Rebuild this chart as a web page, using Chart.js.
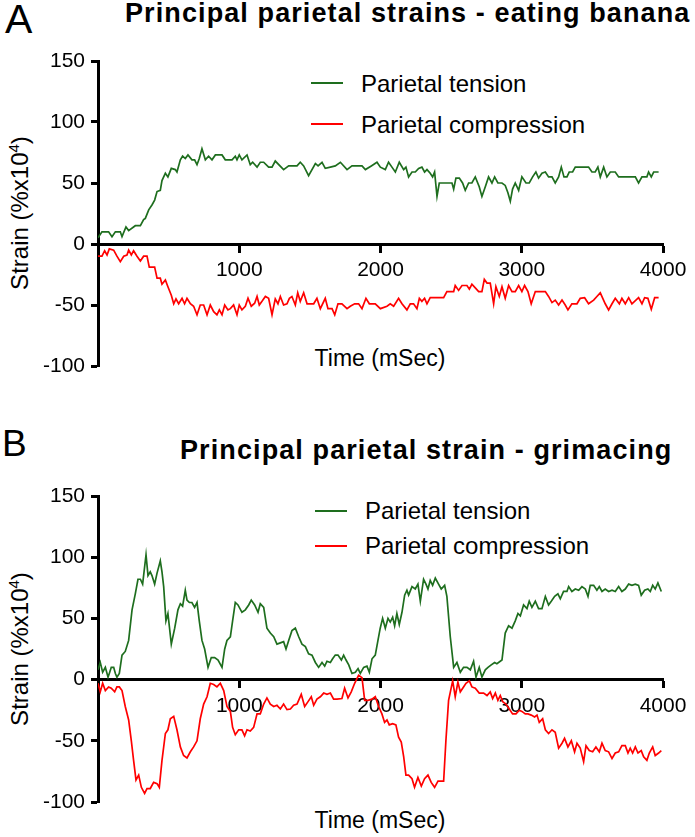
<!DOCTYPE html>
<html>
<head>
<meta charset="utf-8">
<script src="https://cdn.jsdelivr.net/npm/chart.js@4.4.0/dist/chart.umd.min.js"></script>
<style>
  body { margin: 0; width: 695px; height: 837px; position: relative; overflow: hidden; background: #fff;
         font-family: "Liberation Sans", Arial, sans-serif; color: #000; }
  .txt { position: absolute; white-space: nowrap; }
  .panel { position: absolute; left: 0; font-size: 41px; line-height: 41px; }
  .title { font-size: 27px; line-height: 27px; font-weight: bold; letter-spacing: 1.1px; }
  .leg { font-size: 24px; line-height: 24px; }
  .legline { position: absolute; width: 32px; height: 1.7px; }
  .xtitle { font-size: 23px; line-height: 23px; width: 200px; text-align: center; }
  .ytitle { font-size: 24px; line-height: 24px; width: 200px; text-align: center; transform: rotate(-90deg); }
  .ytitle sup { font-size: 15px; line-height: 0; vertical-align: 9px; }
  canvas { position: absolute; left: 0; }
</style>
</head>
<body>

<!-- panel A -->
<div class="txt panel" style="left:5px; top:-1px;">A</div>
<div class="txt title" style="left:125px; top:0px;">Principal parietal strains - eating banana</div>
<div class="legline" style="left:311px; top:82px; background:#1e6e1e;"></div>
<div class="txt leg" style="left:361px; top:72px;">Parietal tension</div>
<div class="legline" style="left:311px; top:123px; background:#ff0000;"></div>
<div class="txt leg" style="left:361px; top:113px;">Parietal compression</div>
<div class="txt xtitle" style="left:280px; top:347px;">Time (mSec)</div>
<div class="txt ytitle" style="left:-80px; top:201px;">Strain (%x10<sup>4</sup>)</div>
<canvas id="chartA" width="695" height="410" style="top:0px;"></canvas>

<!-- panel B -->
<div class="txt panel" style="left:2px; top:425px; font-size:37px; line-height:37px;">B</div>
<div class="txt title" style="left:180px; top:437px;">Principal parietal strain - grimacing</div>
<div class="legline" style="left:315px; top:510px; background:#1e6e1e;"></div>
<div class="txt leg" style="left:365px; top:499px;">Parietal tension</div>
<div class="legline" style="left:315px; top:545px; background:#ff0000;"></div>
<div class="txt leg" style="left:365px; top:534px;">Parietal compression</div>
<div class="txt xtitle" style="left:280px; top:809px;">Time (mSec)</div>
<div class="txt ytitle" style="left:-80px; top:637px;">Strain (%x10<sup>4</sup>)</div>
<canvas id="chartB" width="695" height="417" style="top:420px;"></canvas>

<script>
// x ticks (mSec) and y ticks (strain)
const timeTicks = [0, 1000, 2000, 3000, 4000];
const strainTicks = [-100, -50, 0, 50, 100, 150];

// A - eating banana, tension
const bananaTensionMs = [
  0, 28, 75, 99, 123, 158, 170, 198, 217, 264,
  300, 323, 335, 359, 382, 401, 418, 441, 453, 477,
  495, 519, 547, 559, 583, 599, 618, 637, 665, 684,
  701, 717, 736, 760, 783, 807, 831, 878, 901, 949,
  972, 984, 1000, 1019, 1055, 1078, 1095, 1126, 1149, 1173,
  1208, 1232, 1255, 1314, 1350, 1409, 1432, 1456, 1491, 1539,
  1558, 1586, 1609, 1645, 1680, 1716, 1763, 1798, 1869, 1893,
  1935, 1975, 1999, 2034, 2057, 2081, 2105, 2133, 2164, 2180,
  2199, 2223, 2246, 2270, 2293, 2312, 2329, 2352, 2369, 2383,
  2400, 2416, 2506, 2518, 2534, 2558, 2581, 2600, 2624, 2647,
  2671, 2699, 2718, 2742, 2765, 2789, 2808, 2831, 2860, 2883,
  2902, 2919, 2935, 2954, 2978, 3001, 3030, 3053, 3077, 3100,
  3119, 3143, 3167, 3190, 3214, 3237, 3261, 3280, 3299, 3320,
  3336, 3360, 3379, 3473, 3497, 3520, 3539, 3556, 3580, 3603,
  3627, 3662, 3686, 3804, 3827, 3851, 3886, 3898, 3917, 3934,
  3969
];
const bananaTension = [
  5, 10, 10, 6, 10, 10, 6, 14, 11, 15,
  15, 20, 21, 28, 32, 36, 43, 44, 52, 58,
  55, 62, 61, 59, 69, 72, 70, 73, 69, 69,
  65, 70, 78, 69, 72, 69, 73, 73, 69, 69,
  72, 69, 73, 69, 73, 65, 67, 63, 67, 67,
  63, 63, 68, 61, 64, 64, 67, 64, 56, 66,
  64, 67, 62, 63, 64, 67, 61, 64, 64, 61,
  64, 67, 63, 61, 67, 63, 59, 67, 61, 63,
  55, 59, 59, 62, 63, 59, 61, 58, 55, 59,
  39, 50, 50, 45, 54, 54, 50, 44, 50, 50,
  55, 47, 39, 47, 55, 50, 55, 50, 50, 48,
  42, 35, 45, 50, 44, 55, 50, 50, 55, 59,
  54, 58, 59, 55, 55, 50, 55, 63, 55, 55,
  59, 59, 63, 63, 59, 59, 63, 55, 63, 55,
  59, 59, 55, 55, 50, 55, 55, 59, 55, 59,
  59
];

// A - eating banana, compression
const bananaCompressionMs = [
  0, 28, 47, 64, 80, 111, 134, 158, 182, 205,
  217, 236, 252, 276, 300, 323, 347, 363, 401, 418,
  441, 453, 477, 495, 519, 536, 552, 571, 595, 613,
  630, 654, 677, 701, 724, 748, 772, 795, 819, 842,
  859, 878, 897, 920, 937, 960, 984, 1000, 1019, 1043,
  1062, 1085, 1109, 1126, 1142, 1161, 1185, 1208, 1232, 1255,
  1274, 1291, 1314, 1338, 1355, 1373, 1397, 1414, 1432, 1456,
  1480, 1527, 1550, 1574, 1609, 1628, 1657, 1676, 1699, 1727,
  1763, 1786, 1817, 1845, 1869, 1897, 1921, 1963, 1999, 2046,
  2069, 2093, 2128, 2152, 2187, 2211, 2234, 2258, 2275, 2293,
  2312, 2329, 2352, 2447, 2470, 2518, 2529, 2553, 2577, 2612,
  2629, 2647, 2671, 2695, 2718, 2735, 2754, 2777, 2801, 2817,
  2841, 2860, 2883, 2907, 2931, 2954, 2978, 3001, 3020, 3044,
  3067, 3096, 3167, 3190, 3214, 3237, 3261, 3285, 3308, 3327,
  3355, 3391, 3414, 3445, 3473, 3509, 3532, 3556, 3591, 3615,
  3639, 3662, 3691, 3709, 3733, 3757, 3780, 3827, 3851, 3870,
  3893, 3917, 3941, 3969
];
const bananaCompression = [
  -10, -10, -5.5, -9, -4, -5, -10, -14.5, -10, -9,
  -5, -9, -5.5, -10, -14, -10, -10, -19, -19, -28,
  -28, -33, -29.5, -35, -42, -49, -45, -49, -44.5, -49,
  -44.5, -49, -51, -58, -50, -50, -58, -50, -55.5, -58,
  -54, -58, -50, -54, -53, -50, -58, -50, -54, -51,
  -44.5, -51, -48.5, -43, -50, -47, -43, -44.5, -58, -45,
  -49, -43, -50, -49, -44.5, -43, -50, -40, -47, -40,
  -49, -49, -44.5, -53, -44.5, -53, -53, -58, -49, -49,
  -53, -51, -49, -49, -53, -44.5, -49, -49, -53, -51,
  -49, -51, -44.5, -49, -54, -49, -49, -53, -44.5, -47,
  -44.5, -49, -44, -44, -39, -39, -34, -38, -34, -34,
  -37, -33, -36, -39, -39, -29, -32, -32, -49, -35,
  -43, -35, -44.5, -34, -39, -39, -34, -39, -34, -39,
  -49, -39, -39, -43, -48, -46, -50, -46, -50, -54,
  -49, -49, -44.5, -44, -49, -46, -43, -40, -49, -54,
  -49, -44.5, -49, -44.5, -49, -44, -49, -44, -49, -44,
  -44.5, -53.5, -44, -44
];

// B - grimacing, tension
const grimaceTensionMs = [
  0, 16, 33, 52, 71, 80, 94, 111, 123, 134,
  151, 170, 193, 217, 241, 264, 283, 300, 316, 340,
  354, 370, 382, 401, 418, 441, 453, 465, 481, 495,
  519, 543, 566, 583, 599, 618, 630, 647, 665, 684,
  701, 717, 736, 755, 779, 802, 826, 850, 878, 897,
  913, 937, 953, 972, 991, 1019, 1043, 1067, 1085, 1109,
  1133, 1149, 1173, 1196, 1220, 1244, 1267, 1291, 1314, 1331,
  1350, 1373, 1397, 1421, 1444, 1468, 1491, 1515, 1539, 1562,
  1586, 1605, 1621, 1645, 1661, 1680, 1699, 1723, 1739, 1756,
  1775, 1798, 1822, 1841, 1857, 1881, 1904, 1921, 1940, 1963,
  1982, 1998, 2015, 2034, 2053, 2069, 2086, 2100, 2116, 2133,
  2152, 2171, 2187, 2199, 2223, 2246, 2265, 2282, 2305, 2322,
  2336, 2352, 2369, 2388, 2411, 2430, 2454, 2470, 2494, 2518,
  2541, 2565, 2588, 2612, 2636, 2659, 2676, 2699, 2718, 2742,
  2761, 2784, 2808, 2824, 2860, 2883, 2907, 2931, 2954, 2973,
  2990, 3013, 3037, 3053, 3072, 3096, 3119, 3143, 3167, 3190,
  3209, 3233, 3256, 3273, 3296, 3320, 3332, 3355, 3379, 3403,
  3426, 3450, 3469, 3485, 3509, 3532, 3549, 3568, 3591, 3615,
  3639, 3662, 3686, 3709, 3733, 3757, 3780, 3804, 3827, 3846,
  3870, 3893, 3910, 3927, 3945, 3964, 3988
];
const grimaceTension = [
  8, 14, 6, 10, 2, 5, 10, 10, 5, 2,
  5, 20, 23, 32, 57, 70, 82, 82, 78, 102,
  85, 88, 85, 78, 87, 97, 88, 76, 48, 54,
  29, 42, 57, 62, 60, 73, 65, 63, 63, 59,
  63, 48, 32, 25, 10, 18, 18, 16, 10, 25,
  32, 35, 48, 63, 61, 55, 57, 61, 65, 61,
  55, 62, 59, 42, 38, 35, 29, 30, 31, 25,
  32, 40, 42, 35, 29, 27, 21, 20, 14, 10,
  14, 11, 15, 14, 17, 20, 20, 16, 20, 16,
  12, 5, 6, 9, 5, 10, 11, 6, 17, 20,
  32, 42, 50, 42, 50, 47, 51, 44, 54, 45,
  55, 69, 73, 69, 76, 74, 78, 64, 82, 78,
  74, 81, 77, 83, 78, 74, 77, 68, 35, 10,
  14, 6, 10, 10, 8, 15, 2, 10, 2, 8,
  10, 12, 14, 13, 16, 38, 44, 42, 48, 54,
  52, 61, 58, 64, 59, 64, 58, 58, 68, 61,
  64, 68, 70, 66, 72, 72, 76, 72, 74, 73,
  76, 74, 68, 77, 77, 73, 76, 72, 74, 72,
  73, 72, 76, 72, 74, 78, 77, 78, 77, 69,
  73, 74, 72, 77, 74, 79, 72
];

// B - grimacing, compression
const grimaceCompressionMs = [
  0, 16, 33, 52, 75, 94, 118, 134, 151, 170,
  193, 217, 236, 252, 269, 288, 307, 330, 347, 370,
  394, 418, 434, 453, 477, 495, 512, 536, 559, 583,
  606, 630, 654, 677, 701, 724, 748, 772, 795, 819,
  842, 866, 890, 913, 937, 953, 972, 996, 1019, 1038,
  1055, 1078, 1102, 1126, 1149, 1173, 1196, 1220, 1244, 1267,
  1291, 1314, 1338, 1362, 1385, 1409, 1439, 1463, 1487, 1510,
  1527, 1550, 1574, 1598, 1621, 1645, 1668, 1692, 1727, 1746,
  1770, 1793, 1817, 1845, 1869, 1888, 1911, 1940, 1963, 1987,
  2010, 2029, 2046, 2062, 2086, 2109, 2128, 2147, 2164, 2180,
  2199, 2223, 2241, 2265, 2289, 2312, 2336, 2359, 2383, 2407,
  2430, 2447, 2463, 2482, 2511, 2529, 2548, 2565, 2588, 2605,
  2629, 2647, 2671, 2699, 2730, 2754, 2777, 2794, 2813, 2831,
  2848, 2865, 2888, 2912, 2935, 2959, 2983, 3001, 3025, 3044,
  3067, 3091, 3108, 3124, 3148, 3167, 3190, 3214, 3237, 3261,
  3285, 3303, 3327, 3351, 3374, 3391, 3414, 3438, 3455, 3478,
  3502, 3525, 3549, 3568, 3591, 3615, 3639, 3662, 3686, 3709,
  3733, 3752, 3768, 3785, 3804, 3823, 3846, 3863, 3886, 3903,
  3927, 3945, 3969, 3988
];
const grimaceCompression = [
  -3, -10, -3, -9, -6, -7, -10, -6, -6, -9,
  -22, -33, -50, -66, -82, -78, -88, -93, -89, -89,
  -84, -85, -88, -66, -44, -41, -32, -30, -41, -55,
  -62, -64, -59, -55, -50, -32, -20, -14, -3, -4,
  -6, -3, -9, -22, -26, -39, -45, -41, -41, -46,
  -41, -42, -39, -28, -28, -20, -15, -20, -22, -21,
  -24, -20, -24.5, -24, -21, -20, -12, -22, -18, -14,
  -21, -16, -14, -11, -12, -11, -16, -16, -15.5, -7,
  -15, -10, -3, 3.5, 1.6, -17, -17, -16, -14, -22,
  -28, -35, -33, -37, -36, -37, -47, -51, -63, -78,
  -78, -81, -88, -80, -87, -81, -78, -84, -88, -83,
  -83, -83, -50, -17, -1, -14, -2, -10, -6, -3,
  -1, -6, -7, -11, -11, -13, -10, -15.5, -11, -17,
  -13, -18, -20, -24, -28, -28, -25, -26, -28, -28,
  -29, -30.5, -29, -35, -32, -41, -44, -41, -43, -56,
  -52, -48, -55, -50, -59, -52, -56, -67, -54, -58,
  -59, -55, -59, -52, -58, -59, -64.5, -60, -59, -54,
  -54, -60, -56, -60, -55, -60, -58, -63, -66, -60,
  -55, -62, -60, -58
];

const GREEN = '#1e6e1e';
const RED = '#ff0000';
const FONT = "'Liberation Sans', Arial, sans-serif";

Chart.defaults.font.family = FONT;
Chart.defaults.color = '#000';

function toPoints(ms, vals) {
  return ms.map((t, i) => ({ x: t, y: vals[i] }));
}

function axisStyle() {
  return {
    grid: { drawOnChartArea: false, drawTicks: true, tickLength: 7, tickWidth: 3, tickColor: '#000' },
    border: { display: true, color: '#000', width: 3 }
  };
}

function drawPanel(id, tMs, tVal, cMs, cVal, padTop, padBottom) {
  const ctx = document.getElementById(id).getContext('2d');
  return new Chart(ctx, {
    type: 'line',
    data: {
      datasets: [
        { label: 'Parietal tension', data: toPoints(tMs, tVal), borderColor: GREEN,
          borderWidth: 1.7, pointRadius: 0, tension: 0, fill: false },
        { label: 'Parietal compression', data: toPoints(cMs, cVal), borderColor: RED,
          borderWidth: 1.7, pointRadius: 0, tension: 0, fill: false }
      ]
    },
    options: {
      responsive: false,
      animation: false,
      devicePixelRatio: 1,
      layout: { padding: { left: 0, right: 32, top: padTop, bottom: padBottom } },
      plugins: { legend: { display: false }, tooltip: { enabled: false } },
      scales: {
        x: {
          type: 'linear',
          position: { y: 0 },
          min: timeTicks[0],
          max: timeTicks[timeTicks.length - 1],
          afterBuildTicks: s => { s.ticks = timeTicks.map(v => ({ value: v })); },
          ticks: { padding: 7, maxRotation: 0, autoSkip: false, font: { size: 21 }, color: '#000',
                   callback: v => (v === 0 ? '' : String(v)) },
          ...axisStyle()
        },
        y: {
          type: 'linear',
          min: strainTicks[0],
          max: strainTicks[strainTicks.length - 1],
          afterBuildTicks: s => { s.ticks = strainTicks.map(v => ({ value: v })); },
          afterFit: s => { s.width = 98; },
          ticks: { padding: 6, font: { size: 21 }, color: '#000', callback: v => String(v) },
          ...axisStyle()
        }
      }
    }
  });
}

drawPanel('chartA', bananaTensionMs, bananaTension, bananaCompressionMs, bananaCompression, 61, 44);
drawPanel('chartB', grimaceTensionMs, grimaceTension, grimaceCompressionMs, grimaceCompression, 76, 35);
</script>
</body>
</html>
